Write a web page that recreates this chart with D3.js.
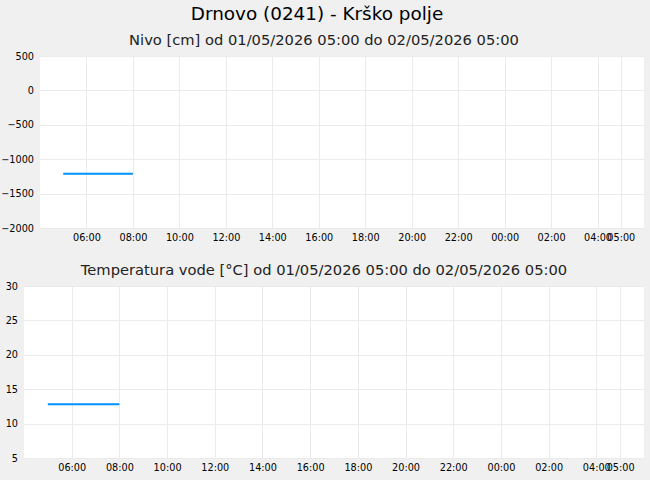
<!DOCTYPE html>
<html>
<head>
<meta charset="utf-8">
<script src="https://cdn.jsdelivr.net/npm/d3@7"></script>
<style>
    body { margin: 0; background: #f0f0f0; }
    svg { display: block; font-family: "DejaVu Sans", sans-serif; }
</style>
</head>
<body>
<svg id="chart" width="650" height="480"></svg>
<script>
var stationTitle = "Drnovo (0241) - Krško polje";
var levelTitle = "Nivo [cm] od 01/05/2026 05:00 do 02/05/2026 05:00";
var tempTitle = "Temperatura vode [°C] od 01/05/2026 05:00 do 02/05/2026 05:00";
var levelTimes = ["2026-05-01T05:00", "2026-05-01T08:00"];
var levelValues = [-1210, -1210];
var tempTimes = ["2026-05-01T05:00", "2026-05-01T08:00"];
var tempValues = [12.8, 12.8];
var levelTicks = [-2000, -1500, -1000, -500, 0, 500];
var tempTicks = [5, 10, 15, 20, 25, 30];
var hourTicks = ["2026-05-01T06:00", "2026-05-01T08:00", "2026-05-01T10:00", "2026-05-01T12:00",
    "2026-05-01T14:00", "2026-05-01T16:00", "2026-05-01T18:00", "2026-05-01T20:00",
    "2026-05-01T22:00", "2026-05-02T00:00", "2026-05-02T02:00", "2026-05-02T04:00", "2026-05-02T05:00"];
var timeRange = ["2026-05-01T04:00", "2026-05-02T06:00"];

var parse = d3.timeParse("%Y-%m-%dT%H:%M");
var fmt = d3.timeFormat("%H:%M");
var svg = d3.select("#chart");

svg.append("text")
    .attr("x", 317).attr("y", 20)
    .attr("text-anchor", "middle")
    .attr("font-size", 18.4)
    .attr("fill", "#000")
    .text(stationTitle);

function drawPanel(opts) {
    var x = d3.scaleTime().domain(timeRange.map(parse)).range([opts.left, opts.right]);
    var y = d3.scaleLinear().domain([opts.ticks[0], opts.ticks[opts.ticks.length - 1]]).range([opts.bottom, opts.top]);
    var g = svg.append("g");

    g.append("text")
        .attr("x", 324).attr("y", opts.titleY)
        .attr("text-anchor", "middle")
        .attr("font-size", 14.7)
        .attr("fill", "#222")
        .text(opts.title);

    g.append("rect")
        .attr("x", opts.left).attr("y", opts.top)
        .attr("width", opts.right - opts.left).attr("height", opts.bottom - opts.top)
        .attr("fill", "#fff");

    // grid
    g.append("g").selectAll("line").data(hourTicks.map(parse)).join("line")
        .attr("x1", function (d) { return Math.round(x(d)) + 0.5; })
        .attr("x2", function (d) { return Math.round(x(d)) + 0.5; })
        .attr("y1", opts.top).attr("y2", opts.bottom)
        .attr("stroke", "#ebebeb");
    g.append("g").selectAll("line").data(opts.ticks).join("line")
        .attr("y1", function (d) { return Math.round(y(d)) + 0.5; })
        .attr("y2", function (d) { return Math.round(y(d)) + 0.5; })
        .attr("x1", opts.left).attr("x2", opts.right)
        .attr("stroke", "#ebebeb");

    var xAxis = d3.axisBottom(x).tickValues(hourTicks.map(parse)).tickFormat(fmt).tickSize(0).tickPadding(6);
    g.append("g").attr("transform", "translate(0," + opts.bottom + ")").call(xAxis)
        .call(function (a) { a.select(".domain").remove(); })
        .selectAll("text").attr("font-size", 9.7).attr("fill", "#000").attr("font-family", "DejaVu Sans");

    var yAxis = d3.axisLeft(y).tickValues(opts.ticks).tickFormat(d3.format("d")).tickSize(0).tickPadding(6);
    g.append("g").attr("transform", "translate(" + opts.left + ",0)").call(yAxis)
        .call(function (a) { a.select(".domain").remove(); })
        .selectAll("text").attr("font-size", 9.7).attr("fill", "#000").attr("font-family", "DejaVu Sans");

    var line = d3.line()
        .x(function (d) { return x(d[0]); })
        .y(function (d) { return y(d[1]); });
    g.append("path")
        .datum(opts.times.map(function (t, i) { return [parse(t), opts.values[i]]; }))
        .attr("d", line)
        .attr("fill", "none")
        .attr("stroke", "#0091ff")
        .attr("stroke-width", 2);
}

drawPanel({title: levelTitle, titleY: 45, left: 40, right: 644, top: 56, bottom: 228,
    ticks: levelTicks, times: levelTimes, values: levelValues});
drawPanel({title: tempTitle, titleY: 275, left: 24, right: 644, top: 286, bottom: 458,
    ticks: tempTicks, times: tempTimes, values: tempValues});
</script>
</body>
</html>
